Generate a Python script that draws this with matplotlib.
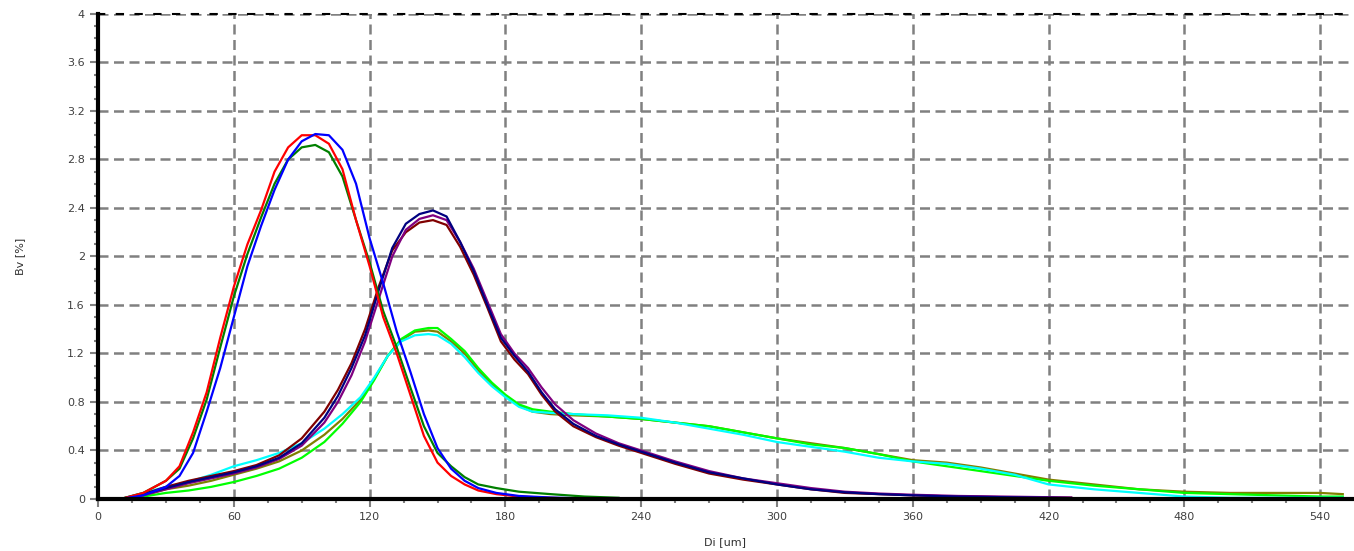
import matplotlib
matplotlib.use("Agg")
import matplotlib.pyplot as plt
from matplotlib.ticker import MultipleLocator, FuncFormatter

# group A: three narrow distributions (peak ~95 um)
xa = [10, 20, 30, 36, 42, 48, 54, 60, 66, 72, 78, 84, 90, 96, 102, 108, 114, 120,
      126, 132, 138, 144, 150, 156, 162, 168, 176, 186, 200, 215, 230]
red = [0.0, 0.05, 0.15, 0.27, 0.55, 0.88, 1.33, 1.75, 2.1, 2.38, 2.7, 2.9, 3.0, 3.0,
       2.93, 2.72, 2.3, 1.92, 1.5, 1.2, 0.86, 0.52, 0.3, 0.19, 0.12, 0.07, 0.04,
       0.02, 0.01, 0.0, 0.0]
blue = [0.0, 0.03, 0.1, 0.19, 0.38, 0.72, 1.08, 1.5, 1.92, 2.25, 2.55, 2.8, 2.95,
        3.01, 3.0, 2.88, 2.6, 2.15, 1.78, 1.38, 1.05, 0.7, 0.42, 0.25, 0.15, 0.09,
        0.05, 0.025, 0.012, 0.005, 0.0]
green = [0.0, 0.05, 0.15, 0.25, 0.5, 0.82, 1.25, 1.67, 2.02, 2.32, 2.6, 2.8, 2.9,
         2.92, 2.86, 2.66, 2.3, 1.95, 1.55, 1.25, 0.92, 0.6, 0.38, 0.27, 0.18, 0.12,
         0.09, 0.06, 0.04, 0.02, 0.01]

# group B: three medium distributions (peak ~148 um)
xb = [10, 20, 30, 40, 50, 60, 70, 80, 90, 100, 106, 112, 118, 124, 130, 136, 142,
      148, 154, 160, 166, 172, 178, 184, 190, 196, 202, 210, 220, 230, 240, 255,
      270, 285, 300, 315, 330, 345, 360, 380, 400, 430]
navy = [0.0, 0.04, 0.09, 0.14, 0.18, 0.22, 0.27, 0.34, 0.46, 0.67, 0.85, 1.08, 1.35,
        1.72, 2.07, 2.27, 2.35, 2.38, 2.33, 2.12, 1.88, 1.6, 1.33, 1.18, 1.05, 0.88,
        0.74, 0.62, 0.52, 0.45, 0.39, 0.3, 0.22, 0.17, 0.12, 0.08, 0.055, 0.04,
        0.03, 0.02, 0.015, 0.008]
purple = [0.0, 0.03, 0.08, 0.13, 0.17, 0.21, 0.26, 0.33, 0.44, 0.63, 0.8, 1.02, 1.3,
          1.65, 2.0, 2.22, 2.31, 2.34, 2.3, 2.12, 1.9, 1.63, 1.36, 1.2, 1.08, 0.92,
          0.78, 0.65, 0.54, 0.46, 0.4, 0.31, 0.23, 0.17, 0.13, 0.09, 0.06, 0.045,
          0.035, 0.025, 0.02, 0.012]
maroon = [0.0, 0.04, 0.1, 0.15, 0.19, 0.23, 0.28, 0.36, 0.5, 0.72, 0.9, 1.12, 1.4,
          1.75, 2.05, 2.2, 2.28, 2.3, 2.26, 2.08, 1.85, 1.58, 1.3, 1.15, 1.03, 0.86,
          0.72, 0.6, 0.51, 0.44, 0.38, 0.29, 0.21, 0.16, 0.12, 0.08, 0.05, 0.04,
          0.03, 0.02, 0.015, 0.01]

# group C: three broad distributions (peak ~148 um, long tail)
xc = [10, 20, 30, 40, 50, 60, 70, 80, 90, 100, 108, 116, 122, 128, 134, 140, 146,
      150, 156, 162, 168, 174, 180, 186, 192, 200, 210, 225, 240, 255, 270, 285,
      300, 315, 330, 345, 360, 375, 390, 405, 420, 440, 460, 480, 500, 520, 540, 550]
lime = [0.0, 0.02, 0.05, 0.07, 0.1, 0.14, 0.19, 0.25, 0.34, 0.47, 0.62, 0.8, 0.98,
        1.18, 1.32, 1.39, 1.41, 1.41, 1.32, 1.22, 1.08, 0.96, 0.86, 0.78, 0.74, 0.72,
        0.7, 0.68, 0.66, 0.63, 0.6, 0.55, 0.5, 0.45, 0.42, 0.37, 0.31, 0.27, 0.23,
        0.19, 0.15, 0.11, 0.08, 0.05, 0.04, 0.03, 0.02, 0.02]
cyan = [0.0, 0.05, 0.1, 0.14, 0.2, 0.27, 0.32, 0.38, 0.46, 0.58, 0.7, 0.84, 1.0,
        1.18, 1.3, 1.35, 1.36, 1.35, 1.28, 1.17, 1.04, 0.93, 0.84, 0.76, 0.72, 0.71,
        0.7, 0.69, 0.67, 0.63, 0.58, 0.53, 0.47, 0.43, 0.39, 0.34, 0.31, 0.29, 0.25,
        0.2, 0.12, 0.08, 0.05, 0.02, 0.01, 0.01, 0.01, 0.01]
olive = [0.0, 0.03, 0.08, 0.11, 0.15, 0.2, 0.25, 0.31, 0.4, 0.53, 0.66, 0.82, 0.99,
         1.18, 1.31, 1.38, 1.39, 1.38, 1.3, 1.2, 1.06, 0.94, 0.85, 0.77, 0.72, 0.7,
         0.69, 0.68, 0.66, 0.63, 0.6, 0.55, 0.5, 0.46, 0.42, 0.37, 0.32, 0.3, 0.26,
         0.21, 0.16, 0.12, 0.08, 0.06, 0.05, 0.05, 0.05, 0.04]


def fmt(v, pos):
    return ("%.1f" % v).rstrip("0").rstrip(".")


fig = plt.figure(figsize=(13.54, 5.51), dpi=100)
ax = fig.add_axes([0.0724, 0.0944, 0.926, 0.8802])

ax.grid(True, which="major", color="#808080", linestyle=(0, (4, 2.2)), linewidth=1.8)
ax.set_axisbelow(True)

lw = 1.6
ax.plot(xc, olive, color="#808000", lw=lw)
ax.plot(xc, lime, color="#00ff00", lw=lw)
ax.plot(xc, cyan, color="#00ffff", lw=lw)
ax.plot(xb, maroon, color="#800000", lw=lw)
ax.plot(xb, purple, color="#800080", lw=lw)
ax.plot(xb, navy, color="#000080", lw=lw)
ax.plot(xa, green, color="#008000", lw=lw)
ax.plot(xa, red, color="#ff0000", lw=lw)
ax.plot(xa, blue, color="#0000ff", lw=lw)

ax.set_xlim(0, 554)
ax.set_ylim(0, 4)
ax.xaxis.set_major_locator(MultipleLocator(60))
ax.xaxis.set_minor_locator(MultipleLocator(15))
ax.yaxis.set_major_locator(MultipleLocator(0.4))
ax.yaxis.set_minor_locator(MultipleLocator(0.1))
ax.yaxis.set_major_formatter(FuncFormatter(fmt))

ax.tick_params(which="major", direction="out", length=6, width=1.5, color="#808080",
               labelsize=8, labelcolor="#404040")
ax.tick_params(which="minor", direction="out", length=3, width=1.5, color="#808080")

for s in ("left", "bottom"):
    ax.spines[s].set_linewidth(3)
    ax.spines[s].set_color("black")
ax.spines["right"].set_visible(False)
ax.spines["top"].set_linewidth(1.5)
ax.spines["top"].set_linestyle((0, (3, 6)))
ax.spines["top"].set_color("black")

ax.set_xlabel("Di [um]", fontsize=8, color="#303030", labelpad=11)
ax.set_ylabel("Bv [%]", fontsize=8, color="#303030", labelpad=30)

fig.savefig("out.png", dpi=100)
